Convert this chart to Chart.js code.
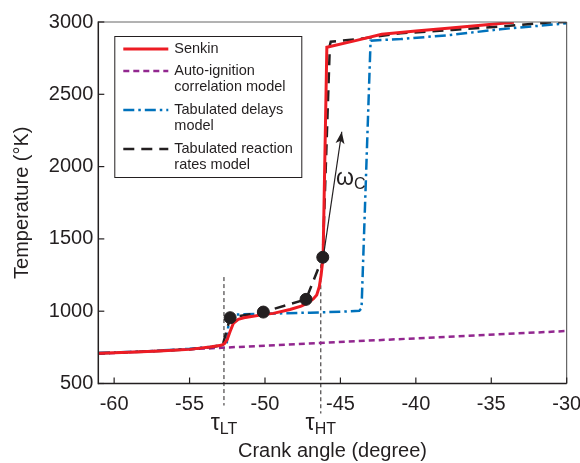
<!DOCTYPE html>
<html>
<head>
<meta charset="utf-8">
<script src="https://cdn.jsdelivr.net/npm/chart.js@4.4.1/dist/chart.umd.min.js"></script>
<style>
  html, body { margin: 0; padding: 0; background: #fff; }
  #wrap { width: 580px; height: 463px; position: relative; }
</style>
</head>
<body>
<div id="wrap"><canvas id="chart"></canvas></div>
<script>
const xTicks = [-60, -55, -50, -45, -40, -35, -30];
const yTicks = [500, 1000, 1500, 2000, 2500, 3000];

// Senkin (detailed chemistry)
const senkinAngle = [-61, -59, -57, -55, -53.65, -52.9, -52.7, -52.5, -52.32, -52.1, -51.77, -51.4, -51, -50, -49.45, -48.34, -47.6, -47.23, -46.8, -46.57, -46.4, -46.28, -46.15, -45.9, -44, -42.26, -40, -37.7, -35.5, -33.5];
const senkinTemp = [709, 716, 725, 736, 752, 764, 775, 805, 858, 916, 944, 955, 962, 978, 985, 1012, 1035, 1054, 1085, 1112, 1170, 1250, 1370, 2825, 2871, 2915, 2937, 2958, 2979, 2998];

// Auto-ignition correlation model
const autoAngle = [-61, -30];
const autoTemp = [706, 863];

// Tabulated delays model
const delaysAngle = [-61, -58, -55, -53.5, -52.8, -52.54, -52.37, -50, -47, -45, -43.75, -43.6, -43.0, -41, -37.7, -34.4, -30];
const delaysTemp = [712, 722, 740, 755, 766, 770, 976, 982, 990, 996, 1003, 1020, 2871, 2882, 2910, 2950, 2991];

// Tabulated reaction rates model
const ratesAngle = [-61, -58, -55, -53.5, -52.8, -52.31, -50.11, -47.28, -46.17, -45.7, -45.64, -44, -41, -37.6, -34, -31, -30];
const ratesTemp = [709, 720, 736, 752, 766, 955, 994, 1082, 1373, 2840, 2864, 2880, 2922, 2945, 2972, 2998, 3000];
const dotAngle = [-52.31, -50.11, -47.28, -46.17];
const dotTemp = [955, 994, 1082, 1373];

const legendLabels = [["Senkin"], ["Auto-ignition", "correlation model"], ["Tabulated delays", "model"], ["Tabulated reaction", "rates model"]];

const tauLT = -52.72;
const tauHT = -46.3;
const tauLTTop = 1236;
const tauHTTop = 1373;
const omegaFrom = [-46.1, 1400];
const omegaTo = [-44.91, 2241];
const omegaLabel = [-45.29, 1873];

const ink = "#231f20";
const fontFamily = "'Liberation Sans', Arial, Helvetica, sans-serif";

const pts = (xs, ys) => xs.map((x, i) => ({ x: x, y: ys[i] }));

const senkin = {
  label: "Senkin", data: pts(senkinAngle, senkinTemp),
  borderColor: "#ed1c24", borderWidth: 3, pointRadius: 0, tension: 0, order: 1,
};
const rates = {
  label: "Tabulated reaction rates model", data: pts(ratesAngle, ratesTemp),
  borderColor: ink, borderWidth: 2.5, borderDash: [11, 7], pointRadius: 0, tension: 0, order: 2,
};
const delays = {
  label: "Tabulated delays model", data: pts(delaysAngle, delaysTemp),
  borderColor: "#0072bc", borderWidth: 2.5, borderDash: [11, 4, 2.5, 4], pointRadius: 0, tension: 0, order: 3,
};
const auto = {
  label: "Auto-ignition correlation model", data: pts(autoAngle, autoTemp),
  borderColor: "#92278f", borderWidth: 2.5, borderDash: [6, 4], pointRadius: 0, tension: 0, order: 4,
};
const dots = {
  label: "dots", data: pts(dotAngle, dotTemp), showLine: false,
  pointRadius: 6, pointBackgroundColor: ink, pointBorderColor: ink, order: 0,
};

const legendSets = [senkin, auto, delays, rates];

function strokeLine(ctx, x1, y1, x2, y2, color, width, dash) {
  ctx.save();
  ctx.strokeStyle = color;
  ctx.lineWidth = width;
  ctx.setLineDash(dash || []);
  ctx.beginPath();
  ctx.moveTo(x1, y1);
  ctx.lineTo(x2, y2);
  ctx.stroke();
  ctx.restore();
}

function subLabel(ctx, main, sub, cx, baseline, mainSize, subSize, centered) {
  ctx.save();
  ctx.fillStyle = ink;
  ctx.textBaseline = "alphabetic";
  ctx.textAlign = "left";
  ctx.font = mainSize + "px " + fontFamily;
  const w1 = ctx.measureText(main).width;
  ctx.font = subSize + "px " + fontFamily;
  const w2 = ctx.measureText(sub).width;
  const x0 = centered ? cx - (w1 + w2) / 2 : cx;
  ctx.font = mainSize + "px " + fontFamily;
  ctx.fillText(main, x0, baseline);
  ctx.font = subSize + "px " + fontFamily;
  ctx.fillText(sub, x0 + w1, baseline + 4);
  ctx.restore();
}

const decorations = {
  id: "decorations",
  beforeDatasetsDraw(chart) {
    const { ctx, chartArea, scales } = chart;
    const xs = scales.x, ys = scales.y;
    [[tauLT, tauLTTop, 22], [tauHT, tauHTTop, 30]].forEach(([t, top, below]) => {
      const px = xs.getPixelForValue(t);
      strokeLine(ctx, px, ys.getPixelForValue(top), px, chartArea.bottom + below, ink, 1, [4, 3]);
    });
  },
  afterDraw(chart) {
    const { ctx, chartArea, scales } = chart;
    const xs = scales.x, ys = scales.y;
    const { left, right, top, bottom } = chartArea;

    // frame
    strokeLine(ctx, left, top, right, top, "#666", 1);
    strokeLine(ctx, right, top, right, bottom, "#444", 1);
    strokeLine(ctx, left, top - 0.5, left, bottom + 0.75, ink, 1.5);
    strokeLine(ctx, left, bottom, right, bottom, ink, 1.5);

    // inward ticks
    xTicks.forEach((v) => {
      const px = xs.getPixelForValue(v);
      strokeLine(ctx, px, bottom, px, bottom - 6, ink, 1.2);
    });
    yTicks.forEach((v) => {
      const py = ys.getPixelForValue(v);
      strokeLine(ctx, left, py, left + 6, py, ink, 1.2);
    });

    // tau labels
    subLabel(ctx, "\u03c4", "LT", xs.getPixelForValue(tauLT), bottom + 46, 23, 16, true);
    subLabel(ctx, "\u03c4", "HT", xs.getPixelForValue(tauHT), bottom + 46, 23, 16, true);

    // omega_C arrow
    const ax = xs.getPixelForValue(omegaFrom[0]), ay = ys.getPixelForValue(omegaFrom[1]);
    const bx = xs.getPixelForValue(omegaTo[0]), by = ys.getPixelForValue(omegaTo[1]);
    strokeLine(ctx, ax, ay, bx, by, ink, 1.2);
    const ang = Math.atan2(by - ay, bx - ax);
    ctx.save();
    ctx.translate(bx, by);
    ctx.rotate(ang);
    ctx.fillStyle = ink;
    ctx.beginPath();
    ctx.moveTo(0, 0);
    ctx.lineTo(-12, -4.5);
    ctx.lineTo(-9, 0);
    ctx.lineTo(-12, 4.5);
    ctx.closePath();
    ctx.fill();
    ctx.restore();
    subLabel(ctx, "\u03c9", "C", xs.getPixelForValue(omegaLabel[0]), ys.getPixelForValue(omegaLabel[1]), 23, 16, false);

    // legend
    const bx0 = left + 16, by0 = top + 14, bw = 187, bh = 141;
    ctx.save();
    ctx.fillStyle = "#fff";
    ctx.fillRect(bx0, by0, bw, bh);
    ctx.strokeStyle = ink;
    ctx.lineWidth = 1;
    ctx.strokeRect(bx0 + 0.5, by0 + 0.5, bw, bh);
    ctx.restore();
    const rowY = [13, 35, 74, 113];
    legendSets.forEach((ds, i) => {
      const y = by0 + rowY[i];
      strokeLine(ctx, bx0 + 9, y, bx0 + 54, y, ds.borderColor, ds.borderWidth, ds.borderDash);
      ctx.save();
      ctx.fillStyle = ink;
      ctx.font = "14.5px " + fontFamily;
      ctx.textBaseline = "middle";
      legendLabels[i].forEach((line, j) => ctx.fillText(line, bx0 + 60, y + j * 16));
      ctx.restore();
    });
  },
};

new Chart(document.getElementById("chart"), {
  type: "line",
  data: { datasets: [dots, senkin, rates, delays, auto] },
  options: {
    responsive: true,
    maintainAspectRatio: false,
    animation: false,
    layout: { padding: { top: 22, right: 13.3, left: 0, bottom: 0 } },
    plugins: { legend: { display: false }, tooltip: { enabled: false } },
    scales: {
      x: {
        type: "linear",
        min: -61.05,
        max: -30,
        afterBuildTicks: (s) => { s.ticks = xTicks.map((value) => ({ value })); },
        afterFit: (s) => { s.height = 79.5; s.paddingLeft = 0; s.paddingRight = 0; },
        grid: { display: false, drawTicks: false },
        border: { display: false },
        ticks: { padding: 9, color: ink, font: { family: fontFamily, size: 20 }, maxRotation: 0, autoSkip: false },
        title: { display: true, text: "Crank angle (degree)", color: ink, font: { family: fontFamily, size: 20 }, padding: 0 },
      },
      y: {
        type: "linear",
        min: 500,
        max: 3000,
        afterBuildTicks: (s) => { s.ticks = yTicks.map((value) => ({ value })); },
        afterFit: (s) => { s.width = 98.3; s.paddingTop = 0; s.paddingBottom = 0; },
        grid: { display: false, drawTicks: false },
        border: { display: false },
        ticks: { padding: 5, color: ink, font: { family: fontFamily, size: 20 }, callback: (v) => String(v) },
        title: { display: true, text: "Temperature (\u00b0K)", color: ink, font: { family: fontFamily, size: 20 }, padding: { top: 10, bottom: 0 } },
      },
    },
  },
  plugins: [decorations],
});
</script>
</body>
</html>
